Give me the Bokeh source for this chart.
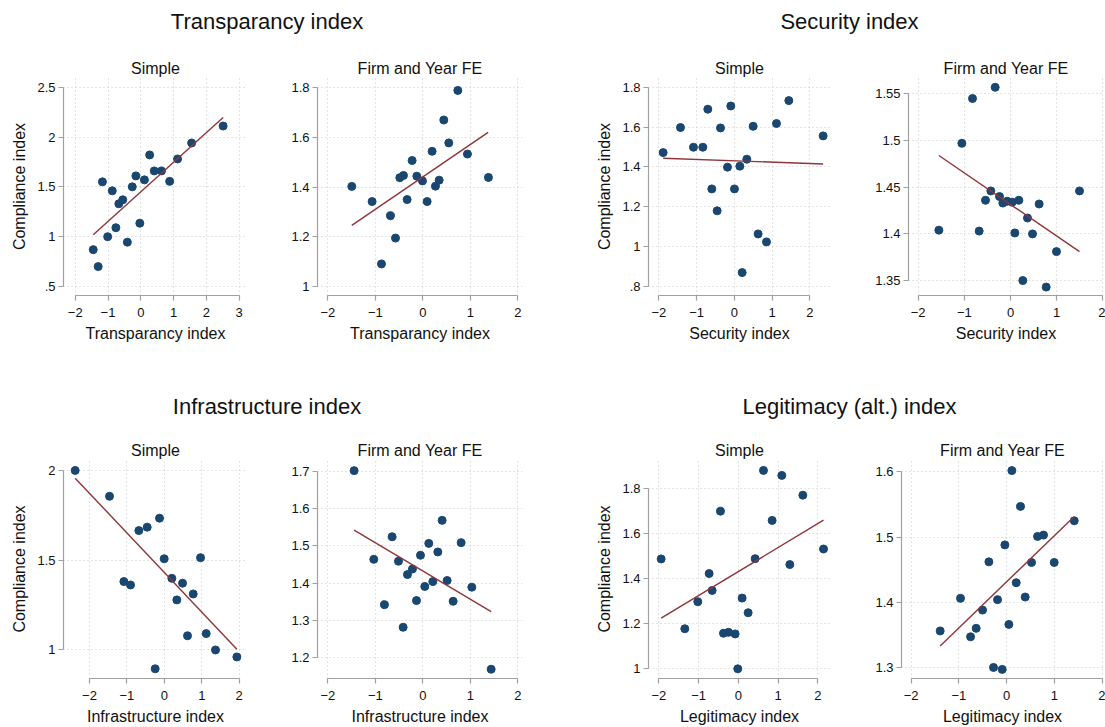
from bokeh.plotting import figure
from bokeh.layouts import column, row
from bokeh.models import Div, FixedTicker, Range1d, Spacer
from bokeh.embed import file_html
from bokeh.resources import INLINE

FONT = "Liberation Sans"
NAVY = "#1a476f"
MAROON = "#90353b"
AXIS_GRAY = "#a0a0a0"
GRID_GRAY = "#c8c8c8"
TEXT = "#111111"

# ---------------- data (binned means) ----------------
# Transparancy index
tr_simple_x = [-1.45, -1.30, -1.17, -1.01, -0.87, -0.76, -0.67, -0.55, -0.41, -0.26,
               -0.15, -0.03, 0.11, 0.27, 0.41, 0.63, 0.88, 1.12, 1.55, 2.51]
tr_simple_y = [0.87, 0.70, 1.55, 1.00, 1.46, 1.09, 1.33, 1.37, 0.945, 1.50,
               1.61, 1.135, 1.57, 1.82, 1.66, 1.66, 1.555, 1.78, 1.94, 2.11]
tr_simple_fit_x = [-1.45, 2.51]
tr_simple_fit_y = [1.02, 2.196]

tr_fe_x = [-1.495, -1.067, -0.870, -0.681, -0.575, -0.484, -0.407, -0.330, -0.225, -0.126,
           -0.007, 0.091, 0.196, 0.267, 0.344, 0.442, 0.547, 0.737, 0.940, 1.382]
tr_fe_y = [1.403, 1.342, 1.091, 1.285, 1.195, 1.438, 1.447, 1.350, 1.507, 1.444,
           1.425, 1.342, 1.544, 1.404, 1.428, 1.670, 1.578, 1.789, 1.533, 1.439]
tr_fe_fit_x = [-1.495, 1.375]
tr_fe_fit_y = [1.246, 1.620]

# Security index
se_simple_x = [-1.885, -1.426, -1.082, -0.834, -0.702, -0.596, -0.455, -0.366, -0.181, -0.093,
               0.004, 0.146, 0.208, 0.331, 0.499, 0.631, 0.852, 1.117, 1.444, 2.353]
se_simple_y = [1.472, 1.598, 1.499, 1.499, 1.690, 1.290, 1.180, 1.596, 1.399, 1.706,
               1.290, 1.404, 0.870, 1.439, 1.604, 1.064, 1.024, 1.618, 1.733, 1.556]
se_simple_fit_x = [-1.885, 2.353]
se_simple_fit_y = [1.444, 1.415]

se_fe_x = [-1.552, -1.054, -0.823, -0.679, -0.542, -0.426, -0.332, -0.238, -0.166, -0.072,
           0.036, 0.094, 0.181, 0.267, 0.368, 0.477, 0.621, 0.773, 0.996, 1.495]
se_fe_y = [1.404, 1.497, 1.545, 1.403, 1.436, 1.446, 1.557, 1.440, 1.433, 1.435,
           1.434, 1.401, 1.436, 1.350, 1.417, 1.400, 1.432, 1.343, 1.381, 1.446]
se_fe_fit_x = [-1.552, 1.495]
se_fe_fit_y = [1.484, 1.381]

# Infrastructure index
in_simple_x = [-2.383, -1.465, -1.082, -0.904, -0.682, -0.459, -0.245, -0.129, -0.004, 0.200,
               0.334, 0.486, 0.619, 0.771, 0.967, 1.118, 1.367, 1.938]
in_simple_y = [2.000, 1.856, 1.381, 1.362, 1.665, 1.684, 0.895, 1.734, 1.508, 1.399,
               1.279, 1.372, 1.079, 1.312, 1.514, 1.091, 1.000, 0.961]
in_simple_fit_x = [-2.383, 1.938]
in_simple_fit_y = [1.957, 1.004]

in_fe_x = [-1.446, -1.032, -0.807, -0.646, -0.512, -0.414, -0.323, -0.218, -0.133, -0.049,
           0.042, 0.126, 0.211, 0.316, 0.407, 0.512, 0.639, 0.807, 1.032, 1.439]
in_fe_y = [1.703, 1.464, 1.342, 1.525, 1.459, 1.281, 1.423, 1.438, 1.353, 1.475,
           1.391, 1.507, 1.404, 1.484, 1.569, 1.407, 1.351, 1.509, 1.389, 1.168]
in_fe_fit_x = [-1.446, 1.439]
in_fe_fit_y = [1.543, 1.323]

# Legitimacy (alt.) index
le_simple_x = [-1.941, -1.346, -1.019, -0.734, -0.658, -0.449, -0.373, -0.247, -0.080, -0.013,
               0.096, 0.247, 0.423, 0.633, 0.851, 1.094, 1.296, 1.623, 2.143]
le_simple_y = [1.488, 1.178, 1.298, 1.423, 1.348, 1.700, 1.158, 1.162, 1.155, 1.000,
               1.314, 1.249, 1.489, 1.881, 1.659, 1.859, 1.463, 1.771, 1.532]
le_simple_fit_x = [-1.941, 2.143]
le_simple_fit_y = [1.225, 1.660]

le_fe_x = [-1.393, -0.967, -0.757, -0.639, -0.506, -0.373, -0.276, -0.192, -0.094, -0.038,
           0.045, 0.108, 0.199, 0.290, 0.387, 0.520, 0.646, 0.771, 0.995, 1.414]
le_fe_y = [1.356, 1.406, 1.347, 1.360, 1.388, 1.462, 1.300, 1.404, 1.297, 1.488,
           1.366, 1.602, 1.430, 1.547, 1.408, 1.461, 1.501, 1.503, 1.461, 1.525]
le_fe_fit_x = [-1.393, 1.393]
le_fe_fit_y = [1.333, 1.530]

# ---------------- tick labels ----------------
tr_simple_xticks = [-2, -1, 0, 1, 2, 3]
tr_simple_yticks = [0.5, 1, 1.5, 2, 2.5]
tr_simple_ylabels = [".5", "1", "1.5", "2", "2.5"]
tr_fe_xticks = [-2, -1, 0, 1, 2]
tr_fe_yticks = [1, 1.2, 1.4, 1.6, 1.8]
tr_fe_ylabels = ["1", "1.2", "1.4", "1.6", "1.8"]

se_simple_xticks = [-2, -1, 0, 1, 2]
se_simple_yticks = [0.8, 1, 1.2, 1.4, 1.6, 1.8]
se_simple_ylabels = [".8", "1", "1.2", "1.4", "1.6", "1.8"]
se_fe_xticks = [-2, -1, 0, 1, 2]
se_fe_yticks = [1.35, 1.4, 1.45, 1.5, 1.55]
se_fe_ylabels = ["1.35", "1.4", "1.45", "1.5", "1.55"]

in_simple_xticks = [-2, -1, 0, 1, 2]
in_simple_yticks = [1, 1.5, 2]
in_simple_ylabels = ["1", "1.5", "2"]
in_fe_xticks = [-2, -1, 0, 1, 2]
in_fe_yticks = [1.2, 1.3, 1.4, 1.5, 1.6, 1.7]
in_fe_ylabels = ["1.2", "1.3", "1.4", "1.5", "1.6", "1.7"]

le_simple_xticks = [-2, -1, 0, 1, 2]
le_simple_yticks = [1, 1.2, 1.4, 1.6, 1.8]
le_simple_ylabels = ["1", "1.2", "1.4", "1.6", "1.8"]
le_fe_xticks = [-2, -1, 0, 1, 2]
le_fe_yticks = [1.3, 1.4, 1.5, 1.6]
le_fe_ylabels = ["1.3", "1.4", "1.5", "1.6"]

group_titles = ["Transparancy index", "Security index", "Infrastructure index", "Legitimacy (alt.) index"]
panel_titles = ["Simple", "Firm and Year FE"]
y_title = "Compliance index"


def panel(x, y, fx, fy, xticks, yticks, ylabels, xr, yr, xlabel, title,
          width, height, bl, br, bt, bb, show_ytitle):
    p = figure(width=width, height=height, output_backend="svg", toolbar_location=None,
               x_range=Range1d(*xr), y_range=Range1d(*yr),
               min_border_left=bl, min_border_right=br, min_border_top=bt, min_border_bottom=bb,
               title=title, margin=0)
    p.outline_line_color = None
    p.background_fill_color = "white"
    p.border_fill_color = "white"
    p.title.align = "center"
    p.title.text_font = FONT
    p.title.text_font_size = "16px"
    p.title.text_font_style = "normal"
    p.title.text_color = TEXT
    p.title.standoff = 2

    p.xaxis.ticker = FixedTicker(ticks=xticks)
    p.yaxis.ticker = FixedTicker(ticks=yticks)
    p.yaxis.major_label_overrides = {t: l for t, l in zip(yticks, ylabels)}
    p.xaxis.bounds = (xticks[0], xticks[-1])
    p.yaxis.bounds = (yticks[0], yticks[-1])
    for ax in (p.xaxis, p.yaxis):
        ax.axis_line_color = AXIS_GRAY
        ax.axis_line_width = 1.2
        ax.major_tick_line_color = AXIS_GRAY
        ax.major_tick_line_width = 1.2
        ax.major_tick_out = 5
        ax.major_tick_in = 0
        ax.minor_tick_line_color = None
        ax.major_label_text_font = FONT
        ax.major_label_text_font_size = "13px"
        ax.major_label_text_color = TEXT
        ax.axis_label_text_font = FONT
        ax.axis_label_text_font_size = "16px"
        ax.axis_label_text_font_style = "normal"
        ax.axis_label_text_color = TEXT
    p.xaxis.major_label_standoff = 7
    p.yaxis.major_label_standoff = 3
    p.yaxis.major_label_orientation = "horizontal"
    p.xaxis.axis_label = xlabel
    p.xaxis.axis_label_standoff = 5
    if show_ytitle:
        p.yaxis.axis_label = y_title
        p.yaxis.axis_label_standoff = 6

    for g in (p.xgrid, p.ygrid):
        g.grid_line_color = GRID_GRAY
        g.grid_line_dash = "1 3"
        g.grid_line_width = 1

    p.scatter(x, y, size=8, fill_color=NAVY, line_color=NAVY)
    p.line(fx, fy, line_color=MAROON, line_width=1.4)
    return p


TOP_H, BOT_H = 300, 297

f1 = panel(tr_simple_x, tr_simple_y, tr_simple_fit_x, tr_simple_fit_y,
           tr_simple_xticks, tr_simple_yticks, tr_simple_ylabels,
           (-2.357, 3.253), (0.41, 2.597), "Transparancy index", panel_titles[0],
           265, TOP_H, 63, 18, 32, 50, True)
f2 = panel(tr_fe_x, tr_fe_y, tr_fe_fit_x, tr_fe_fit_y,
           tr_fe_xticks, tr_fe_yticks, tr_fe_ylabels,
           (-2.217, 2.099), (0.964, 1.841), "Transparancy index", panel_titles[1],
           320, TOP_H, 52, 63, 32, 50, False)
f3 = panel(se_simple_x, se_simple_y, se_simple_fit_x, se_simple_fit_y,
           se_simple_xticks, se_simple_yticks, se_simple_ylabels,
           (-2.273, 2.548), (0.755, 1.849), "Security index", panel_titles[0],
           265, TOP_H, 63, 20, 32, 50, True)
f4 = panel(se_fe_x, se_fe_y, se_fe_fit_x, se_fe_fit_y,
           se_fe_xticks, se_fe_yticks, se_fe_ylabels,
           (-2.210, 2.015), (1.334, 1.5675), "Security index", panel_titles[1],
           255, TOP_H, 58, 2, 32, 50, False)

f5 = panel(in_simple_x, in_simple_y, in_simple_fit_x, in_simple_fit_y,
           in_simple_xticks, in_simple_yticks, in_simple_ylabels,
           (-2.695, 2.222), (0.841, 2.061), "Infrastructure index", panel_titles[0],
           265, BOT_H, 63, 18, 29, 48, True)
f6 = panel(in_fe_x, in_fe_y, in_fe_fit_x, in_fe_fit_y,
           in_fe_xticks, in_fe_yticks, in_fe_ylabels,
           (-2.217, 2.099), (1.143, 1.733), "Infrastructure index", panel_titles[1],
           320, BOT_H, 52, 63, 29, 48, False)
f7 = panel(le_simple_x, le_simple_y, le_simple_fit_x, le_simple_fit_y,
           le_simple_xticks, le_simple_yticks, le_simple_ylabels,
           (-2.259, 2.319), (0.957, 1.9295), "Legitimacy index", panel_titles[0],
           265, BOT_H, 63, 20, 29, 48, True)
f8 = panel(le_fe_x, le_fe_y, le_fe_fit_x, le_fe_fit_y,
           le_fe_xticks, le_fe_yticks, le_fe_ylabels,
           (-2.203, 2.027), (1.283, 1.619), "Legitimacy index", panel_titles[1],
           255, BOT_H, 51, 2, 29, 48, False)


def title_div(text, width, height, pad_top):
    html = (f'<div style="width:{width}px;padding-top:{pad_top}px;text-align:center;'
            f'font-family:\'{FONT}\';font-size:22px;line-height:24px;color:{TEXT};'
            f'white-space:nowrap">{text}</div>')
    return Div(text=html, width=width, height=height, margin=0)


d1 = title_div(group_titles[0], 534, 45, 10)
d2 = title_div(group_titles[1], 511, 45, 10)
d3 = title_div(group_titles[2], 534, 85, 50)
d4 = title_div(group_titles[3], 511, 85, 50)

layout = column(
    row(d1, Spacer(width=60, height=45, margin=0), d2, spacing=0, margin=0),
    row(f1, f2, f3, f4, spacing=0, margin=0),
    row(d3, Spacer(width=60, height=85, margin=0), d4, spacing=0, margin=0),
    row(f5, f6, f7, f8, spacing=0, margin=0),
    spacing=0, margin=0,
)

open("out.html", "w").write(file_html(layout, INLINE))
